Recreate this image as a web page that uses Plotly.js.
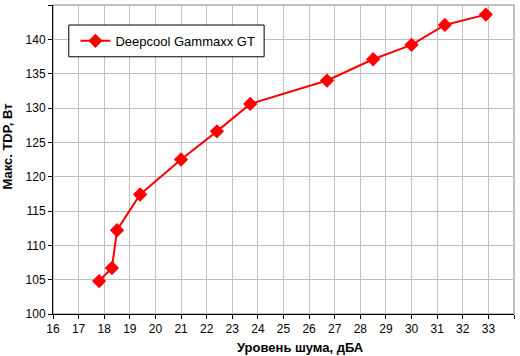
<!DOCTYPE html>
<html><head><meta charset="utf-8">
<script src="https://cdn.plot.ly/plotly-3.0.1.min.js"></script>
<style>html,body{margin:0;padding:0;background:#fff}#c{width:520px;height:356px}</style>
</head><body><div id="c"></div>
<script>
const seriesName = "Deepcool Gammaxx GT";
const noise = [17.8, 18.3, 18.5, 19.4, 21.0, 22.4, 23.7, 26.7, 28.5, 30.0, 31.3, 32.9];
const tdp = [104.8, 106.7, 112.2, 117.4, 122.5, 126.6, 130.6, 134.0, 137.1, 139.2, 142.1, 143.6];
const xTitle = "Уровень шума, дБА";
const yTitle = "Макс. TDP, Вт";

const ff = "Liberation Sans, Arial, sans-serif";
const tickFont = {family: ff, size: 12, color: "#000"};
const titleFont = {family: ff, size: 13, color: "#000", weight: "bold"};
Plotly.newPlot("c", [{
  x: noise, y: tdp, name: seriesName, type: "scatter", mode: "lines+markers",
  line: {color: "#ff0000", width: 2},
  marker: {symbol: "diamond", size: 11, color: "#ff0000"}
}], {
  width: 520, height: 356,
  margin: {l: 52.5, r: 5.7, t: 5.3, b: 42.3},
  paper_bgcolor: "#fff", plot_bgcolor: "#fff",
  showlegend: true,
  legend: {x: 0.0487, y: 0.884, xanchor: "left", yanchor: "middle",
    borderwidth: 0, bgcolor: "rgba(0,0,0,0)",
    font: {family: ff, size: 13, color: "#000"}},
  xaxis: {range: [16, 34], dtick: 1, tick0: 16, showgrid: true, gridcolor: "#c0c0c0", gridwidth: 1,
    showline: true, linecolor: "#000", linewidth: 1, ticks: "outside", ticklen: 4, tickcolor: "#000",
    zeroline: false, tickfont: tickFont},
  yaxis: {range: [100, 145], dtick: 5, tick0: 100, showgrid: true, gridcolor: "#c0c0c0", gridwidth: 1,
    showline: true, linecolor: "#000", linewidth: 1, ticks: "outside", ticklen: 4, tickcolor: "#000",
    zeroline: false, tickfont: tickFont},
  annotations: [
    {text: xTitle, xref: "paper", yref: "paper", x: 0.536, y: -0.108,
     xanchor: "center", yanchor: "middle", showarrow: false, font: titleFont},
    {text: yTitle, xref: "paper", yref: "paper", x: -0.0985, y: 0.5405, textangle: -90,
     xanchor: "center", yanchor: "middle", showarrow: false, font: titleFont}
  ],
  shapes: [
    {type: "rect", xref: "paper", yref: "paper", x0: 0, x1: 1, y0: 0, y1: 1,
     line: {color: "#808080", width: 1}, layer: "below"},
    {type: "rect", xref: "paper", yref: "paper", x0: 0.0342, x1: 0.458, y0: 0.8324, y1: 0.9352,
     line: {color: "#000", width: 1}, fillcolor: "#fff", layer: "above"}
  ]
}, {displayModeBar: false, staticPlot: true});
</script></body></html>
